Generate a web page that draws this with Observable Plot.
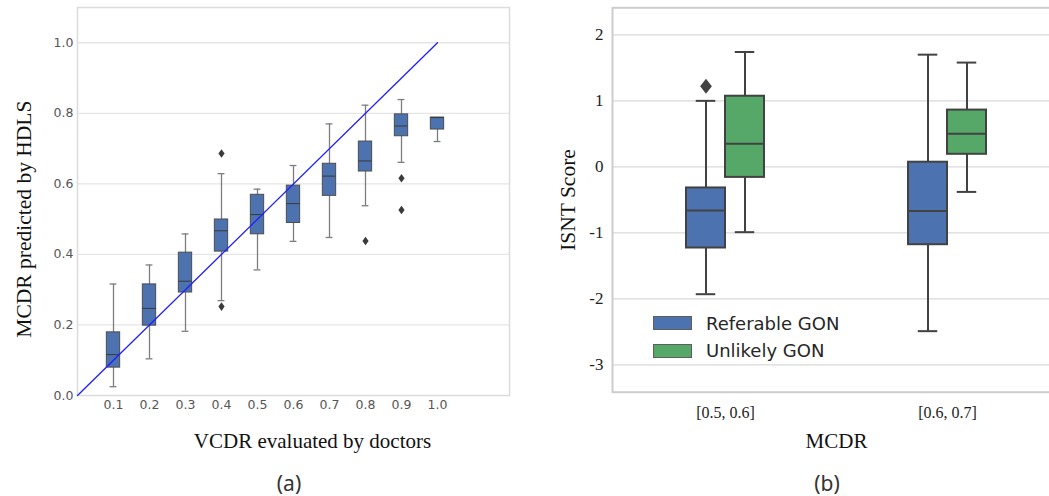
<!DOCTYPE html>
<html>
<head>
<meta charset="utf-8">
<script src="https://cdn.jsdelivr.net/npm/d3@7"></script>
<script src="https://cdn.jsdelivr.net/npm/@observablehq/plot@0.6"></script>
<style>
  html, body { margin: 0; padding: 0; background: #fff; overflow: hidden; width: 1049px; height: 496px; position: relative; }
  #a, #b { position: absolute; top: 0; }
  #a { left: 0; width: 520px; }
  #b { left: 530px; width: 530px; }
  #a svg, #b svg { max-width: none !important; width: auto; display: block; }
  .cap { position: absolute; font-family: "Noto Sans", sans-serif; font-size: 21px; color: #333; transform: translate(-50%, -50%); white-space: nowrap; }
  #legend { position: absolute; left: 653px; top: 309.5px; font-family: "DejaVu Sans", sans-serif; font-size: 18px; color: #262626; }
  #legend .row { display: flex; align-items: center; height: 27.6px; }
  #legend .sw { width: 37px; height: 12px; border: 1px solid #5e5e5e; margin-right: 14px; }
</style>
</head>
<body>
<div id="a"></div>
<div id="b"></div>
<div id="legend"></div>
<div class="cap" style="left:289px;top:483px">(a)</div>
<div class="cap" style="left:827px;top:483px">(b)</div>
<script>
// ---------- Panel (a) data ----------
const vcdr        = [0.1, 0.2, 0.3, 0.4, 0.5, 0.6, 0.7, 0.8, 0.9, 1.0];
const whiskerLow  = [0.025, 0.104, 0.182, 0.269, 0.356, 0.437, 0.448, 0.538, 0.661, 0.720];
const q1          = [0.079, 0.198, 0.292, 0.408, 0.457, 0.489, 0.566, 0.635, 0.735, 0.754];
const median      = [0.116, 0.247, 0.324, 0.467, 0.513, 0.544, 0.622, 0.665, 0.764, 0.788];
const q3          = [0.179, 0.315, 0.405, 0.499, 0.569, 0.595, 0.657, 0.720, 0.797, 0.788];
const whiskerHigh = [0.316, 0.370, 0.458, 0.629, 0.585, 0.652, 0.770, 0.823, 0.839, 0.788];
const outlierVcdr = [0.4, 0.4, 0.8, 0.9, 0.9];
const outlierMcdr = [0.686, 0.252, 0.438, 0.616, 0.526];
const identityLine = [0, 1];
const yTicksA = [0, 0.2, 0.4, 0.6, 0.8, 1.0];

// ---------- Panel (b) data ----------
const groups = ["[0.5, 0.6]", "[0.6, 0.7]"];
const series = ["Referable GON", "Unlikely GON"];
const seriesColors = ["#4C72B0", "#55A868"];
const referableLow  = [-1.93, -2.49];
const referableQ1   = [-1.23, -1.18];
const referableMed  = [-0.66, -0.67];
const referableQ3   = [-0.32, 0.07];
const referableHigh = [1.00, 1.70];
const unlikelyLow   = [-0.99, -0.38];
const unlikelyQ1    = [-0.16, 0.19];
const unlikelyMed   = [0.35, 0.50];
const unlikelyQ3    = [1.07, 0.86];
const unlikelyHigh  = [1.74, 1.58];
const outlierGroup  = ["[0.5, 0.6]"];
const outlierSeries = ["Referable GON"];
const outlierIsnt   = [1.22];
const yTicksB = [-3, -2, -1, 0, 1, 2];

// custom diamond symbol (height = 2r, width = 2r*aspect)
function diamond(aspect) {
  return { draw(ctx, size) {
    const h = Math.sqrt(size / Math.PI), w = h * aspect;
    ctx.moveTo(0, -h); ctx.lineTo(w, 0); ctx.lineTo(0, h); ctx.lineTo(-w, 0); ctx.closePath();
  }};
}

// ---------- Panel (a) ----------
const rowsA = vcdr.map((v, i) => ({v, lo: whiskerLow[i], q1: q1[i], med: median[i], q3: q3[i], hi: whiskerHigh[i]}));
const outA = outlierVcdr.map((v, i) => ({v, y: outlierMcdr[i]}));
const HB = 0.0185, HC = 0.0095;
const wc = "#7d7d7d";

const plotA = Plot.plot({
  width: 520, height: 460,
  marginLeft: 77, marginRight: 11, marginTop: 7, marginBottom: 65,
  x: {domain: [0, 1.2]},
  y: {domain: [0, 1.1]},
  style: {fontFamily: "DejaVu Sans, sans-serif", fontSize: "12.5px", color: "#555", background: "white"},
  marks: [
    Plot.gridY(yTicksA.filter(d => d > 0), {stroke: "#e6e6e6", strokeOpacity: 1, strokeWidth: 1.3}),
    Plot.frame({stroke: "#dcdcdc", strokeWidth: 1.5}),
    Plot.axisY(yTicksA, {tickSize: 0, tickPadding: 4, tickFormat: ".1f", label: null}),
    Plot.axisX(vcdr, {tickSize: 0, tickPadding: 5, tickFormat: ".1f", label: null}),
    Plot.ruleX(rowsA, {x: "v", y1: "lo", y2: "hi", stroke: wc, strokeWidth: 1.3}),
    Plot.ruleY(rowsA, {y: "lo", x1: d => d.v - HC, x2: d => d.v + HC, stroke: wc, strokeWidth: 1.3}),
    Plot.ruleY(rowsA, {y: "hi", x1: d => d.v - HC, x2: d => d.v + HC, stroke: wc, strokeWidth: 1.3}),
    Plot.rect(rowsA, {x1: d => d.v - HB, x2: d => d.v + HB, y1: "q1", y2: "q3", fill: "#4C72B0", stroke: "#4d4d4d", strokeWidth: 1}),
    Plot.ruleY(rowsA, {y: "med", x1: d => d.v - HB, x2: d => d.v + HB, stroke: "#3a3a3a", strokeWidth: 1}),
    Plot.dot(outA, {x: "v", y: "y", symbol: diamond(0.72), r: 4.3, fill: "#3a3a3a", stroke: null}),
    Plot.line(identityLine, {x: d => d, y: d => d, stroke: "#1f1fff", strokeWidth: 1.3}),
    Plot.text(["VCDR evaluated by doctors"], {frameAnchor: "bottom", lineAnchor: "middle", dy: 46, dx: 19, fontFamily: "Liberation Serif, serif", fontSize: 21, fill: "#111"}),
    Plot.text(["MCDR predicted by HDLS"], {y: 0.5, frameAnchor: "left", textAnchor: "middle", lineAnchor: "middle", rotate: -90, dx: -53, fontFamily: "Liberation Serif, serif", fontSize: 21.5, fill: "#111"})
  ]
});
document.getElementById("a").append(plotA);

// ---------- Panel (b) ----------
const statsB = [
  {lo: referableLow, q1: referableQ1, med: referableMed, q3: referableQ3, hi: referableHigh},
  {lo: unlikelyLow, q1: unlikelyQ1, med: unlikelyMed, q3: unlikelyQ3, hi: unlikelyHigh}
];
const BW = 78, HALF = BW / 2, OFF = HALF / 2, CAPH = HALF / 4;
const stroke = "#424242";
const marksB = [
  Plot.gridY(yTicksB, {stroke: "#d9d9d9", strokeOpacity: 1, strokeWidth: 1.3}),
  Plot.frame({stroke: "#cdcdcd", strokeWidth: 2}),
  Plot.axisY(yTicksB, {tickSize: 0, tickPadding: 9, tickFormat: d => (d < 0 ? "-" + Math.abs(d) : String(d)), label: null, fontSize: 17}),
  Plot.axisX(groups, {tickSize: 0, tickPadding: 14, label: null, fontSize: 16}),
];
series.forEach((s, si) => {
  const st = statsB[si];
  const rows = groups.map((g, gi) => ({g, lo: st.lo[gi], q1: st.q1[gi], med: st.med[gi], q3: st.q3[gi], hi: st.hi[gi]}));
  const dx = si === 0 ? -OFF : OFF;
  const boxInset = si === 0 ? {insetLeft: 0, insetRight: HALF} : {insetLeft: HALF, insetRight: 0};
  const capInset = si === 0 ? {insetLeft: OFF - CAPH, insetRight: HALF + OFF - CAPH} : {insetLeft: HALF + OFF - CAPH, insetRight: OFF - CAPH};
  marksB.push(
    Plot.ruleX(rows, {x: "g", y1: "lo", y2: "hi", dx, stroke, strokeWidth: 2}),
    Plot.tickY(rows, {x: "g", y: "lo", ...capInset, stroke, strokeWidth: 2}),
    Plot.tickY(rows, {x: "g", y: "hi", ...capInset, stroke, strokeWidth: 2}),
    Plot.barY(rows, {x: "g", y1: "q1", y2: "q3", ...boxInset, fill: seriesColors[si], stroke, strokeWidth: 2}),
    Plot.tickY(rows, {x: "g", y: "med", ...boxInset, stroke, strokeWidth: 2})
  );
});
const outB = outlierIsnt.map((y, i) => ({g: outlierGroup[i], s: outlierSeries[i], y}));
marksB.push(
  Plot.dot(outB, {x: "g", y: "y", dx: -OFF, symbol: diamond(0.78), r: 7.5, fill: stroke, stroke: null}),
  Plot.text(["MCDR"], {frameAnchor: "bottom", lineAnchor: "middle", dy: 49, fontFamily: "Liberation Serif, serif", fontSize: 21, fill: "#111"}),
  Plot.text(["ISNT Score"], {frameAnchor: "left", textAnchor: "middle", lineAnchor: "middle", rotate: -90, dx: -44, fontFamily: "Liberation Serif, serif", fontSize: 21.5, fill: "#111"})
);

const plotB = Plot.plot({
  width: 530, height: 460,
  marginLeft: 82, marginRight: 0, marginTop: 7.3, marginBottom: 68.3,
  x: {type: "band", domain: groups, paddingInner: 0.65, paddingOuter: 0.33},
  y: {domain: [-3.415, 2.41]},
  style: {fontFamily: "Liberation Serif, serif", fontSize: "17px", color: "#222", background: "white"},
  marks: marksB
});
document.getElementById("b").append(plotB);

// legend
const legend = document.getElementById("legend");
series.forEach((s, i) => {
  const row = document.createElement("div");
  row.className = "row";
  const sw = document.createElement("div");
  sw.className = "sw";
  sw.style.background = seriesColors[i];
  const t = document.createElement("span");
  t.textContent = s;
  row.append(sw, t);
  legend.append(row);
});
</script>
</body>
</html>
